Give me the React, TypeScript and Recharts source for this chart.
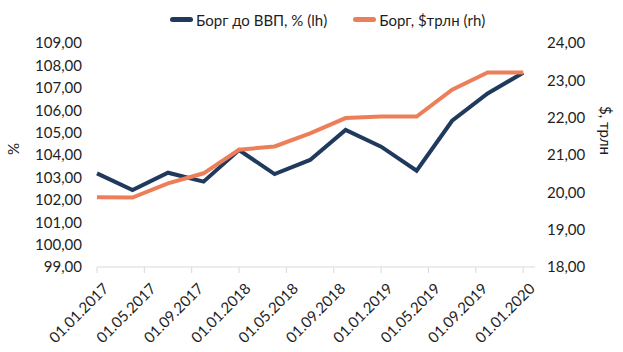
import { Line, LineChart, XAxis, YAxis, Label } from "recharts";

const dates = [
  "01.01.2017", "01.04.2017", "01.07.2017", "01.10.2017",
  "01.01.2018", "01.04.2018", "01.07.2018", "01.10.2018",
  "01.01.2019", "01.04.2019", "01.07.2019", "01.10.2019",
  "01.01.2020",
];
const debtToGdp = [103.18, 102.44, 103.21, 102.81, 104.22, 103.15, 103.78, 105.12, 104.37, 103.3, 105.53, 106.75, 107.67];
const debtTrn = [19.87, 19.86, 20.24, 20.51, 21.14, 21.23, 21.58, 21.99, 22.03, 22.03, 22.75, 23.21, 23.21];
const tickLabels = [
  "01.01.2017", "01.05.2017", "01.09.2017", "01.01.2018", "01.05.2018",
  "01.09.2018", "01.01.2019", "01.05.2019", "01.09.2019", "01.01.2020",
];
const leftTicks = [99, 100, 101, 102, 103, 104, 105, 106, 107, 108, 109];
const rightTicks = [18, 19, 20, 21, 22, 23, 24];

const NAVY = "#203a5e";
const ORANGE = "#ec7f59";
const TEXT = "#1e1e1e";
const FONT = "Lato, 'Open Sans', sans-serif";

function monthIndex(d: string): number {
  const [, mm, yyyy] = d.split(".").map(Number);
  return (yyyy - 2017) * 12 + (mm - 1);
}

const data = dates.map((d, i) => ({
  m: monthIndex(d),
  gdp: debtToGdp[i],
  trn: debtTrn[i],
}));

const labelByMonth: Record<number, string> = {};
tickLabels.forEach((t) => {
  labelByMonth[monthIndex(t)] = t;
});

const fmt = (v: number) => v.toFixed(2).replace(".", ",");

function DateTick(props: any) {
  const { x, y, payload } = props;
  return (
    <g transform={`translate(${x + 7},${y + 9})`}>
      <text
        x={0}
        y={0}
        dy={8}
        textAnchor="end"
        transform="rotate(-45)"
        fill={TEXT}
        fontSize={15}
        fontFamily={FONT}
      >
        {labelByMonth[payload.value]}
      </text>
    </g>
  );
}

function LegendItem({ color, text }: { color: string; text: string }) {
  return (
    <span style={{ display: "inline-flex", alignItems: "center", marginRight: 26 }}>
      <span
        style={{
          display: "inline-block",
          width: 23,
          height: 5,
          borderRadius: 3,
          background: color,
          marginRight: 3,
        }}
      />
      {text}
    </span>
  );
}

export default function App() {
  return (
    <div style={{ position: "absolute", left: 0, top: 0, width: 623, height: 352, background: "#fff" }}>
      <div
        style={{
          position: "absolute",
          top: 7,
          left: 170,
          fontFamily: FONT,
          fontSize: 15,
          color: TEXT,
          whiteSpace: "nowrap",
        }}
      >
        <LegendItem color={NAVY} text="Борг до ВВП, % (lh)" />
        <LegendItem color={ORANGE} text="Борг, $трлн (rh)" />
      </div>
      <LineChart width={623} height={352} data={data} margin={{ top: 43, right: 0, bottom: 0, left: 0 }}>
        <XAxis
          dataKey="m"
          type="number"
          domain={[0, 37]}
          ticks={tickLabels.map(monthIndex)}
          tick={<DateTick />}
          height={85}
          stroke="#d9d9d9"
          tickLine={{ stroke: "#d9d9d9" }}
          tickSize={6}
          interval={0}
        />
        <YAxis
          yAxisId="left"
          domain={[99, 109]}
          ticks={leftTicks}
          tickFormatter={fmt}
          width={97}
          axisLine={false}
          tickLine={false}
          tickSize={0}
          tickMargin={15}
          tick={{ fill: TEXT, fontSize: 15, fontFamily: FONT }}
          interval={0}
        >
          <Label
            value="%"
            angle={-90}
            position="insideLeft"
            offset={14}
            style={{ fill: TEXT, fontSize: 15, fontFamily: FONT }}
          />
        </YAxis>
        <YAxis
          yAxisId="right"
          orientation="right"
          domain={[18, 24]}
          ticks={rightTicks}
          tickFormatter={fmt}
          width={88}
          axisLine={false}
          tickLine={false}
          tickSize={0}
          tickMargin={12}
          tick={{ fill: TEXT, fontSize: 15, fontFamily: FONT, textAnchor: "start" }}
          interval={0}
        >
          <Label
            value="$, трлн"
            angle={90}
            position="insideRight"
            offset={18}
            style={{ fill: TEXT, fontSize: 15, fontFamily: FONT }}
          />
        </YAxis>
        <Line
          yAxisId="left"
          dataKey="gdp"
          stroke={NAVY}
          strokeWidth={4}
          dot={false}
          type="linear"
          isAnimationActive={false}
        />
        <Line
          yAxisId="right"
          dataKey="trn"
          stroke={ORANGE}
          strokeWidth={4}
          dot={false}
          type="linear"
          isAnimationActive={false}
        />
      </LineChart>
    </div>
  );
}
